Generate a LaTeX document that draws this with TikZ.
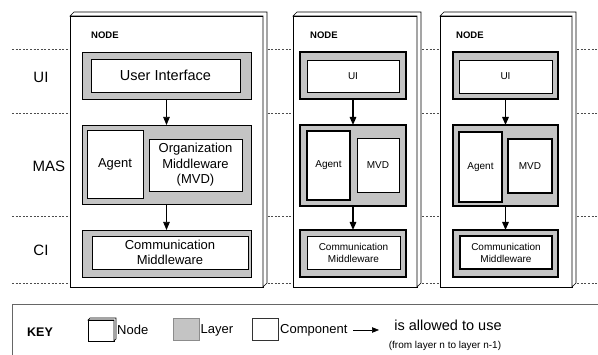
\documentclass[tikz,border=0pt]{standalone}
\usepackage{fontspec}
\setmainfont{Liberation Sans}
\usetikzlibrary{arrows.meta}

\definecolor{layergray}{HTML}{C4C4C4}

\tikzset{
  box/.style={inner sep=0pt, outer sep=0pt, align=center},
  nodebox/.style={box, draw=black, line width=0.7pt, fill=white},
  layerbox/.style={box, draw=black, line width=0.9pt, fill=layergray},
  layerboxb/.style={box, draw=black, line width=1.4pt, fill=layergray},
  compbox/.style={box, draw=black, line width=0.9pt, fill=white},
  tier/.style={draw=black!70, line width=0.5pt, dash pattern=on 2pt off 1.6pt},
  uses/.style={-{Triangle[length=8pt,width=6.5pt]}, line width=0.7pt},
  usesb/.style={-{Triangle[length=8pt,width=6.5pt]}, line width=1.4pt},
  big/.style={font=\fontsize{13}{15.5}\selectfont},
  small/.style={font=\fontsize{10}{12}\selectfont},
  lbl/.style={font=\fontsize{15}{17}\selectfont},
  nodetitle/.style={font=\bfseries\fontsize{9.5}{11}\selectfont, anchor=west, inner sep=0pt},
}

% rectangle node given by its corners: style, name, x1, y1, x2, y2, text
\newcommand{\rectnode}[7]{%
  \pgfmathsetmacro\rw{#5-#3}\pgfmathsetmacro\rh{#6-#4}%
  \pgfmathsetmacro\rx{(#3+#5)/2}\pgfmathsetmacro\ry{(#4+#6)/2}%
  \node[#1, minimum width=\rw pt, minimum height=\rh pt] (#2) at (\rx,\ry) {#7};}

% 3D rim of a deployment node
\newcommand{\noderim}[2]{%
  \filldraw[fill=white, draw=black, line width=0.6pt]
    (#1.north west) -- ([shift={(#2,-#2)}]#1.north west)
    -- ([shift={(#2,-#2)}]#1.north east) -- ([shift={(#2,-#2)}]#1.south east)
    -- (#1.south east) -- (#1.north east) -- cycle;}

\begin{document}
\begin{tikzpicture}[x=1pt,y=-1pt]
\useasboundingbox (0,0) rectangle (598,355);

% tier separators
\foreach \yy in {49,113,216,283}
  \draw[tier] (12,\yy) -- (598,\yy);

% tier labels
\node[lbl] (lui)  at (41,77)  {UI};
\node[lbl] (lmas) at (49,166) {MAS};
\node[lbl] (lci)  at (41,250) {CI};

% ---------- node 1 ----------
\rectnode{nodebox}{n1}{70}{16}{263}{287}{}
\noderim{n1}{4}
\node[nodetitle] (n1t) at (91,35) {NODE};

\rectnode{layerbox}{n1ui}{82}{52}{251}{99}{}
\rectnode{compbox,font=\fontsize{14.5}{16}\selectfont}{n1uic}{91}{59}{240}{92}{User Interface}

\rectnode{layerbox}{n1mas}{82}{125}{251}{204}{}
\rectnode{compbox,big}{n1ag}{87}{130}{143}{198}{Agent}
\rectnode{compbox,big}{n1org}{149}{139}{242}{191}{Organization\\Middleware\\(MVD)}

\rectnode{layerbox}{n1ci}{82}{230}{251}{277}{}
\rectnode{compbox,big}{n1cm}{92}{236}{248}{269}{Communication\\Middleware}

\draw[uses] (n1ui.south) -- (n1mas.north);
\draw[uses] (n1mas.south) -- (n1ci.north);

% ---------- node 2 ----------
\rectnode{nodebox}{n2}{293}{16}{417}{287}{}
\noderim{n2}{4}
\node[nodetitle] (n2t) at (310,35) {NODE};

\rectnode{layerboxb}{n2ui}{300}{52}{406}{99}{}
\rectnode{compbox,small}{n2uic}{307}{60}{399}{92}{UI}

\rectnode{layerboxb}{n2mas}{300}{125}{406}{206}{}
\rectnode{compbox,small,line width=1.3pt}{n2ag}{307}{131}{350}{200}{Agent}
\rectnode{compbox,small}{n2mvd}{357}{138}{399}{192}{MVD}

\rectnode{layerboxb}{n2ci}{300}{230}{406}{277}{}
\rectnode{compbox,small}{n2cm}{307}{236}{400}{269}{Communication\\Middleware}

\draw[usesb] (n2ui.south) -- (n2mas.north);
\draw[usesb] (n2mas.south) -- (n2ci.north);

% ---------- node 3 ----------
\rectnode{nodebox}{n3}{440}{16}{572}{287}{}
\noderim{n3}{4}
\node[nodetitle] (n3t) at (456,35) {NODE};

\rectnode{layerboxb}{n3ui}{453}{52}{558}{99}{}
\rectnode{compbox,small}{n3uic}{459}{60}{552}{93}{UI}

\rectnode{layerboxb}{n3mas}{453}{125}{558}{206}{}
\rectnode{compbox,small,line width=1.3pt}{n3ag}{459}{132}{502}{202}{Agent}
\rectnode{compbox,small,line width=1.3pt}{n3mvd}{508}{139}{552}{193}{MVD}

\rectnode{layerboxb}{n3ci}{453}{230}{558}{277}{}
\rectnode{compbox,small,line width=1.3pt}{n3cm}{460}{236}{552}{269}{Communication\\Middleware}

\draw[usesb] (n3ui.south) -- (n3mas.north);
\draw[usesb] (n3mas.south) -- (n3ci.north);

% ---------- key ----------
\draw[draw=black!60, line width=0.6pt] (12,365) -- (12,304) -- (610,304);
\node[font=\bfseries\fontsize{12.5}{14}\selectfont, anchor=west, inner sep=0pt] (key) at (27,332) {KEY};

\rectnode{nodebox}{kn}{88}{320}{114}{341}{}
\noderim{kn}{2}
\node[font=\fontsize{13}{15}\selectfont, anchor=west, inner sep=0pt] (knt) at (117,330) {Node};

\rectnode{box,draw=black!45,line width=0.6pt,fill=layergray}{kl}{173}{318}{199}{340}{}
\node[font=\fontsize{13}{15}\selectfont, anchor=west, inner sep=0pt] (klt) at (200.5,330) {Layer};

\rectnode{box,draw=black!80,line width=0.6pt,fill=white}{kc}{252}{318}{278}{340}{}
\node[font=\fontsize{13}{15}\selectfont, anchor=west, inner sep=0pt] (kct) at (280,330) {Component};

\coordinate (ka) at (353,330);
\coordinate (kb) at (379,330);
\draw[-{Triangle[length=7pt,width=5.5pt]}, line width=0.7pt] (ka) -- (kb);
\node[font=\fontsize{14.5}{16}\selectfont] (kut) at (448,325) {is allowed to use};
\node[font=\fontsize{10}{12}\selectfont] (kus) at (445,346) {(from layer n to layer n-1)};
\end{tikzpicture}
\end{document}
